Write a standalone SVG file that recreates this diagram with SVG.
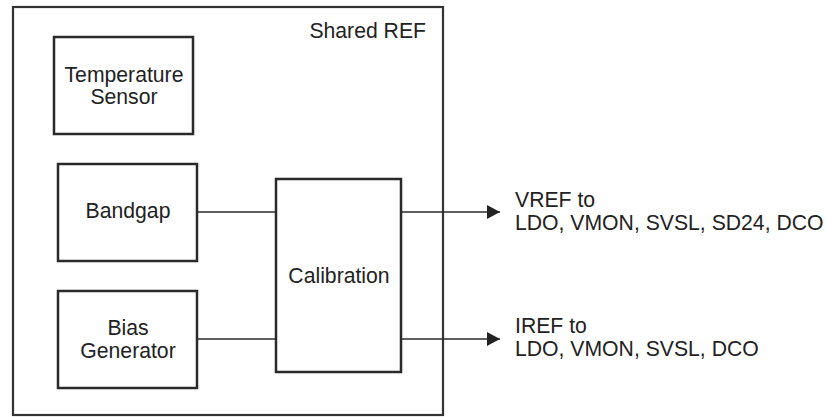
<svg xmlns="http://www.w3.org/2000/svg" width="827" height="417" viewBox="0 0 827 417">
<style>
.box{fill:none;stroke:#2a2a2a;stroke-width:2.5}
.outer{fill:none;stroke:#333;stroke-width:2.2}
.wire{fill:none;stroke:#2a2a2a;stroke-width:1.3}
text{font-family:"Liberation Sans",Arial,sans-serif;font-size:21.2px;fill:#222}
.c{text-anchor:middle}
</style>
<defs>
<marker id="arr" markerWidth="13" markerHeight="14" refX="13" refY="7" orient="auto" markerUnits="userSpaceOnUse">
<path d="M0,0 L13,7 L0,14 Z" fill="#222"/>
</marker>
</defs>
<rect x="0" y="0" width="827" height="417" fill="#fff"/>
<g id="shared-ref">
<rect class="outer" x="13" y="7" width="430" height="408"/>
<text x="426" y="38" text-anchor="end">Shared REF</text>
</g>
<g id="temp-sensor">
<rect class="box" x="54" y="37" width="139" height="97"/>
<text class="c" x="124" y="82">Temperature</text>
<text class="c" x="124" y="104">Sensor</text>
</g>
<g id="bandgap">
<rect class="box" x="58" y="164" width="139" height="97"/>
<text class="c" x="128" y="218">Bandgap</text>
</g>
<g id="bias-gen">
<rect class="box" x="58" y="291" width="139" height="97"/>
<text class="c" x="128" y="335">Bias</text>
<text class="c" x="128" y="358">Generator</text>
</g>
<g id="calibration">
<rect class="box" x="276" y="179" width="125" height="193"/>
<text class="c" x="339" y="283">Calibration</text>
</g>
<g id="connectors">
<line class="wire" x1="197" y1="212" x2="276" y2="212"/>
<line class="wire" x1="197" y1="339" x2="276" y2="339"/>
<line class="wire" x1="401" y1="212" x2="500" y2="212" marker-end="url(#arr)"/>
<line class="wire" x1="401" y1="339" x2="500" y2="339" marker-end="url(#arr)"/>
</g>
<g id="vref-label">
<text x="515" y="207">VREF to</text>
<text x="515" y="230">LDO, VMON, SVSL, SD24, DCO</text>
</g>
<g id="iref-label">
<text x="515" y="333">IREF to</text>
<text x="515" y="356">LDO, VMON, SVSL, DCO</text>
</g>
</svg>
